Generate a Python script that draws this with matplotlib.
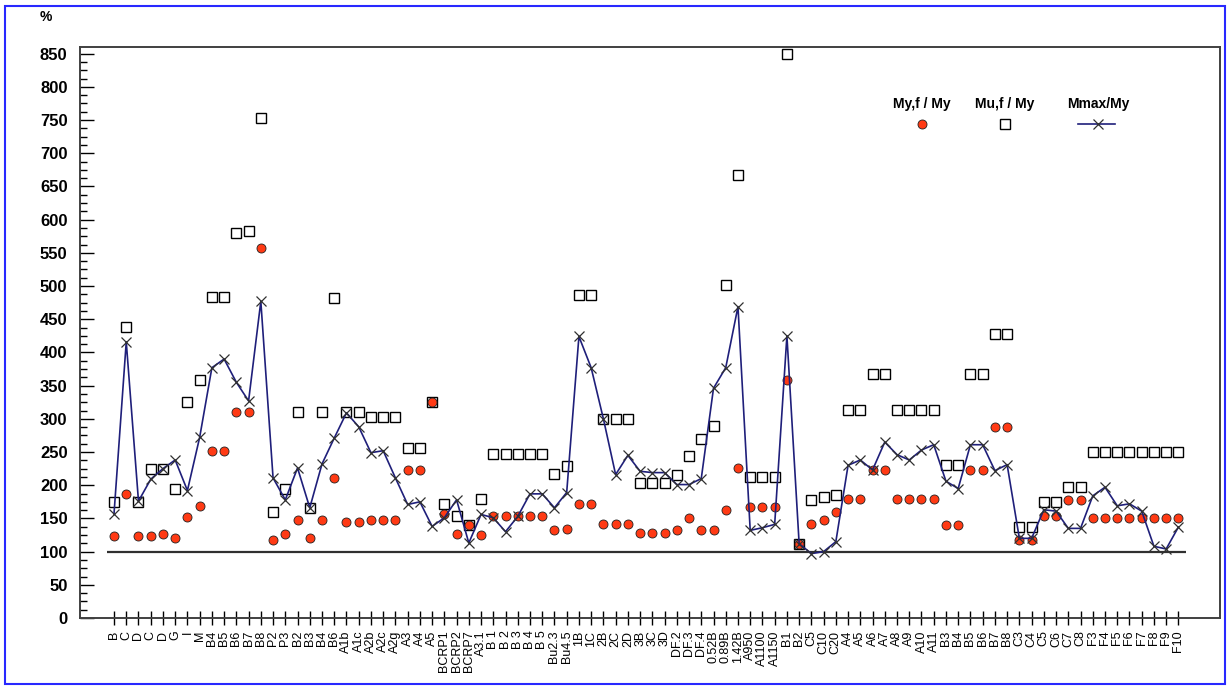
import numpy as np
import matplotlib.pyplot as plt
from matplotlib.lines import Line2D
from matplotlib.patches import Rectangle
from matplotlib.ticker import MultipleLocator

labels = ['B', 'C', 'D', 'C', 'D', 'G', 'I', 'M', 'B4', 'B5', 'B6', 'B7', 'B8',
          'P2', 'P3', 'B2', 'B3', 'B4', 'B6', 'A1b', 'A1c', 'A2b', 'A2c', 'A2g',
          'A3', 'A4', 'A5', 'BCRP1', 'BCRP2', 'BCRP7', 'A3.1', 'B 1', 'B 2',
          'B 3', 'B 4', 'B 5', 'Bu2.3', 'Bu4.5', '1B', '1C', '2B', '2C', '2D',
          '3B', '3C', '3D', 'DF.2', 'DF.3', 'DF.4', '0.52B', '0.89B', '1.42B',
          'A950', 'A1100', 'A1150', 'B1', 'B2', 'C5', 'C10', 'C20', 'A4', 'A5',
          'A6', 'A7', 'A8', 'A9', 'A10', 'A11', 'B3', 'B4', 'B5', 'B6', 'B7',
          'B8', 'C3', 'C4', 'C5', 'C6', 'C7', 'C8', 'F3', 'F4', 'F5', 'F6',
          'F7', 'F8', 'F9', 'F10']

# My,f / My  (%)
my_f = [124, 187, 124, 124, 126, 121, 152, 169, 252, 252, 310, 310, 558,
        117, 126, 147, 120, 147, 211, 145, 145, 147, 147, 147,
        223, 223, 325, 156, 126, 140, 125, 153, 153,
        153, 153, 153, 133, 134, 171, 171, 141, 141, 141,
        128, 128, 128, 133, 150, 133, 133, 162, 226,
        167, 167, 167, 358, 112, 142, 148, 160, 180, 180,
        223, 223, 180, 180, 180, 180, 140, 140, 223, 223, 287,
        287, 118, 118, 153, 153, 177, 177, 150, 150, 150, 150,
        150, 150, 150, 150]

# Mu,f / My  (%)
mu_f = [175, 439, 175, 225, 225, 194, 325, 358, 483, 483, 580, 583, 753,
        160, 195, 311, 165, 311, 482, 311, 311, 302, 302, 302,
        256, 256, 325, 171, 153, 140, 179, 247, 247,
        247, 247, 247, 217, 229, 487, 487, 300, 300, 300,
        204, 204, 204, 215, 244, 269, 289, 501, 667,
        213, 213, 213, 849, 112, 177, 182, 186, 314, 314,
        368, 368, 314, 314, 314, 314, 231, 231, 368, 368, 428,
        428, 137, 137, 175, 175, 197, 197, 250, 250, 250, 250,
        250, 250, 250, 250]

# Mmax / My  (%)
m_max = [157, 416, 176, 209, 225, 238, 192, 272, 377, 390, 355, 327, 477,
         211, 178, 226, 166, 232, 271, 309, 288, 249, 252, 211,
         171, 175, 138, 151, 178, 113, 156, 151, 130,
         153, 187, 187, 166, 189, 424, 377, 300, 216, 245,
         221, 219, 219, 201, 201, 210, 346, 377, 469,
         132, 136, 141, 425, 112, 97, 100, 115, 230, 238,
         223, 265, 246, 238, 253, 261, 206, 195, 261, 261, 222,
         231, 120, 120, 163, 161, 135, 135, 184, 197, 169, 172,
         161, 108, 104, 137]

RED = '#ff3a14'
NAVY = '#1f1f7a'
plt.rcParams['font.family'] = ['Liberation Sans', 'DejaVu Sans']

x = np.arange(len(labels))

fig = plt.figure(figsize=(12.27, 6.86), dpi=100)
ax = fig.add_axes([0.0652, 0.0991, 0.9291, 0.8324])

# reference line at 100 %
ax.hlines(100, -0.6, len(labels) - 0.35, color='#303030', lw=1.6, zorder=1)

ax.plot(x, mu_f, ls='none', marker='s', ms=7, mfc='white', mec='black',
        mew=1.0, zorder=3)
ax.plot(x, my_f, ls='none', marker='o', ms=6.5, mfc=RED, mec='#202020',
        mew=0.6, zorder=4)
ax.plot(x, m_max, color=NAVY, lw=1.2, marker='x', ms=7, mec='#303030',
        mew=0.9, zorder=5)

ax.set_xlim(-2.78, 90.4)
ax.set_ylim(0, 860)
ax.yaxis.set_major_locator(MultipleLocator(50))
ax.yaxis.set_minor_locator(MultipleLocator(12.5))
ax.set_xticks(x)
ax.set_xticklabels(labels, rotation=90, fontsize=9, va='top', ha='center')
ax.tick_params(axis='x', direction='inout', length=10, width=1, pad=4)
ax.tick_params(axis='y', which='major', direction='in', length=10, width=1,
               labelsize=12, pad=9)
ax.tick_params(axis='y', which='minor', direction='in', length=5, width=1)
for lab in ax.get_yticklabels():
    lab.set_fontweight('bold')
for side in ax.spines.values():
    side.set_color('#404040')
    side.set_linewidth(1.4)

ax.text(-0.035, 1.04, '%', transform=ax.transAxes, fontsize=10,
        fontweight='bold', ha='left', va='bottom')

# legend key: captions above the symbols
keys = [(0.7386, 'My,f / My'), (0.8114, 'Mu,f / My'), (0.893, 'Mmax/My')]
for xk, txt in keys:
    ax.text(xk, 0.9, txt, transform=ax.transAxes, fontsize=10,
            fontweight='bold', ha='center', va='center')
ax.add_line(Line2D([keys[0][0]], [0.865], transform=ax.transAxes, ls='none',
                   marker='o', ms=6.5, mfc=RED, mec='#202020', mew=0.6))
ax.add_line(Line2D([keys[1][0]], [0.865], transform=ax.transAxes, ls='none',
                   marker='s', ms=7, mfc='white', mec='black', mew=1.0))
ax.add_line(Line2D([0.875, 0.908], [0.865, 0.865], transform=ax.transAxes,
                   color=NAVY, lw=1.2))
ax.add_line(Line2D([keys[2][0]], [0.865], transform=ax.transAxes, ls='none',
                   marker='x', ms=7, mec='#303030', mew=0.9))

# window border
fig.patches.append(Rectangle((0.004, 0.003), 0.994, 0.988,
                             transform=fig.transFigure, fill=False,
                             edgecolor='#2828ff', lw=1.5))

fig.savefig('out.png', dpi=100)
